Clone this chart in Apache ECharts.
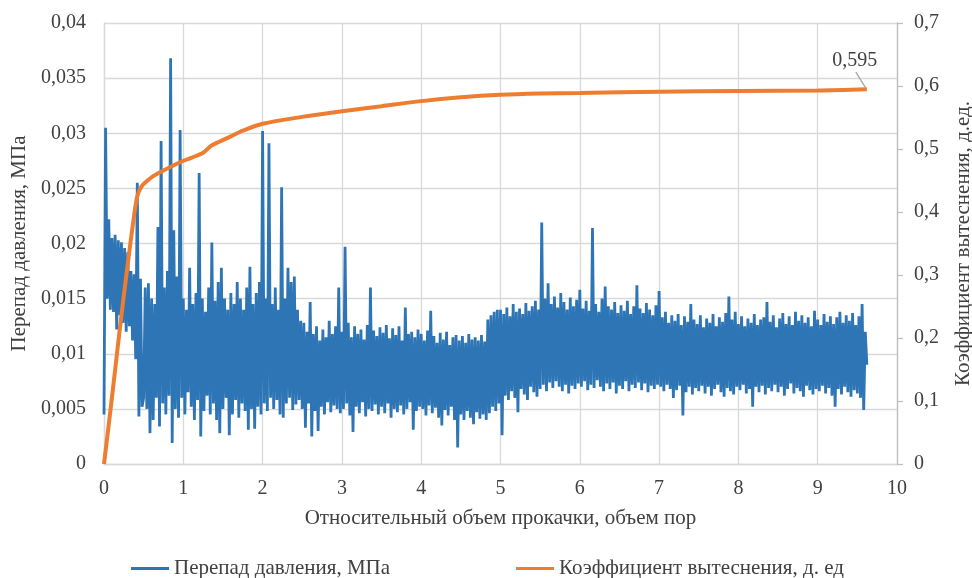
<!DOCTYPE html>
<html>
<head>
<meta charset="utf-8">
<script src="https://cdn.jsdelivr.net/npm/echarts@6/dist/echarts.min.js"></script>
<style>
  html, body { margin: 0; padding: 0; background: #ffffff; overflow: hidden; }
  #chart { width: 972px; height: 578px; }
</style>
</head>
<body>
<div id="chart"></div>
<script>
// Pressure drop readings, MPa, sampled every 0.02 pore volumes starting at 0
const pressureStep = 0.02;
const pressure = [
  0.0045, 0.0305, 0.0150, 0.0222, 0.0140, 0.0205, 0.0138, 0.0208, 0.0122, 0.0203,
  0.0135, 0.0201, 0.0128, 0.0196, 0.0120, 0.0192, 0.0125, 0.0175, 0.0112, 0.0172,
  0.0095, 0.0255, 0.0043, 0.0168, 0.0052,
  0.0060, 0.0160, 0.0050, 0.0164, 0.0028, 0.0150, 0.0040, 0.0145, 0.0060, 0.0215,
  0.0034, 0.0293, 0.0055, 0.0160, 0.0045, 0.0175, 0.0062, 0.0368, 0.0019, 0.0212,
  0.0050, 0.0170, 0.0042, 0.0303, 0.0060,
  0.0150, 0.0045, 0.0140, 0.0065, 0.0178, 0.0052, 0.0145, 0.0040, 0.0155, 0.0058,
  0.0264, 0.0025, 0.0150, 0.0048, 0.0138, 0.0062, 0.0160, 0.0045, 0.0201, 0.0055,
  0.0148, 0.0040, 0.0165, 0.0028, 0.0178,
  0.0050, 0.0150, 0.0060, 0.0140, 0.0026, 0.0155, 0.0045, 0.0145, 0.0058, 0.0165,
  0.0042, 0.0150, 0.0055, 0.0140, 0.0048, 0.0160, 0.0031, 0.0179, 0.0050, 0.0145,
  0.0032, 0.0155, 0.0052, 0.0165, 0.0045,
  0.0302, 0.0055, 0.0150, 0.0048, 0.0291, 0.0060, 0.0145, 0.0050, 0.0160, 0.0058,
  0.0140, 0.0045, 0.0251, 0.0042, 0.0150, 0.0055, 0.0178, 0.0060, 0.0165, 0.0049,
  0.0170, 0.0054, 0.0140, 0.0058, 0.0130,
  0.0050, 0.0128, 0.0033, 0.0120, 0.0055, 0.0147, 0.0025, 0.0118, 0.0048, 0.0125,
  0.0030, 0.0112, 0.0052, 0.0122, 0.0045, 0.0115, 0.0056, 0.0130, 0.0047, 0.0118,
  0.0053, 0.0125, 0.0050, 0.0160, 0.0046,
  0.0120, 0.0050, 0.0197, 0.0055, 0.0128, 0.0044, 0.0115, 0.0029, 0.0125, 0.0052,
  0.0118, 0.0046, 0.0122, 0.0056, 0.0113, 0.0043, 0.0126, 0.0050, 0.0160, 0.0048,
  0.0121, 0.0054, 0.0116, 0.0045, 0.0124,
  0.0052, 0.0119, 0.0046, 0.0126, 0.0055, 0.0114, 0.0042, 0.0123, 0.0050, 0.0117,
  0.0047, 0.0125, 0.0053, 0.0112, 0.0045, 0.0142, 0.0050, 0.0118, 0.0056, 0.0120,
  0.0031, 0.0115, 0.0048, 0.0122, 0.0052,
  0.0118, 0.0050, 0.0112, 0.0044, 0.0121, 0.0053, 0.0139, 0.0046, 0.0116, 0.0051,
  0.0110, 0.0042, 0.0119, 0.0035, 0.0113, 0.0049, 0.0120, 0.0044, 0.0108, 0.0052,
  0.0115, 0.0040, 0.0117, 0.0015, 0.0112,
  0.0045, 0.0116, 0.0040, 0.0110, 0.0048, 0.0118, 0.0042, 0.0113, 0.0036, 0.0115,
  0.0047, 0.0112, 0.0041, 0.0117, 0.0045, 0.0111, 0.0040, 0.0131, 0.0046, 0.0135,
  0.0052, 0.0138, 0.0048, 0.0140, 0.0055,
  0.0140, 0.0026, 0.0136, 0.0062, 0.0142, 0.0058, 0.0134, 0.0066, 0.0145, 0.0060,
  0.0138, 0.0047, 0.0141, 0.0068, 0.0136, 0.0063, 0.0146, 0.0058, 0.0139, 0.0070,
  0.0143, 0.0065, 0.0148, 0.0061, 0.0140,
  0.0068, 0.0219, 0.0072, 0.0150, 0.0066, 0.0164, 0.0074, 0.0145, 0.0069, 0.0152,
  0.0075, 0.0142, 0.0070, 0.0155, 0.0066, 0.0147, 0.0072, 0.0140, 0.0064, 0.0151,
  0.0071, 0.0143, 0.0068, 0.0149, 0.0073,
  0.0158, 0.0070, 0.0141, 0.0075, 0.0148, 0.0067, 0.0139, 0.0072, 0.0214, 0.0069,
  0.0145, 0.0076, 0.0138, 0.0070, 0.0150, 0.0066, 0.0161, 0.0073, 0.0143, 0.0068,
  0.0140, 0.0074, 0.0147, 0.0064, 0.0137,
  0.0071, 0.0144, 0.0068, 0.0139, 0.0075, 0.0148, 0.0066, 0.0136, 0.0072, 0.0143,
  0.0069, 0.0162, 0.0074, 0.0141, 0.0067, 0.0137, 0.0073, 0.0146, 0.0065, 0.0140,
  0.0071, 0.0135, 0.0068, 0.0144, 0.0072,
  0.0157, 0.0070, 0.0133, 0.0066, 0.0138, 0.0072, 0.0128, 0.0068, 0.0135, 0.0060,
  0.0130, 0.0067, 0.0136, 0.0071, 0.0126, 0.0044, 0.0134, 0.0065, 0.0129, 0.0070,
  0.0145, 0.0063, 0.0131, 0.0069, 0.0127,
  0.0066, 0.0135, 0.0071, 0.0124, 0.0064, 0.0132, 0.0070, 0.0128, 0.0062, 0.0136,
  0.0068, 0.0125, 0.0072, 0.0133, 0.0065, 0.0129, 0.0061, 0.0137, 0.0069, 0.0152,
  0.0066, 0.0131, 0.0063, 0.0138, 0.0070,
  0.0127, 0.0067, 0.0134, 0.0072, 0.0125, 0.0064, 0.0132, 0.0068, 0.0128, 0.0052,
  0.0136, 0.0070, 0.0126, 0.0065, 0.0131, 0.0071, 0.0133, 0.0063, 0.0147, 0.0069,
  0.0129, 0.0066, 0.0135, 0.0072, 0.0124,
  0.0065, 0.0132, 0.0070, 0.0137, 0.0062, 0.0127, 0.0068, 0.0134, 0.0073, 0.0126,
  0.0064, 0.0138, 0.0069, 0.0130, 0.0066, 0.0135, 0.0061, 0.0128, 0.0071, 0.0133,
  0.0067, 0.0125, 0.0063, 0.0139, 0.0068,
  0.0131, 0.0066, 0.0126, 0.0071, 0.0136, 0.0064, 0.0129, 0.0069, 0.0134, 0.0062,
  0.0127, 0.0052, 0.0133, 0.0068, 0.0138, 0.0063, 0.0128, 0.0070, 0.0135, 0.0065,
  0.0130, 0.0061, 0.0137, 0.0067, 0.0126, 0.0064, 0.0134, 0.0060, 0.0145, 0.0049,
  0.0120, 0.0090
];

// Displacement coefficient curve: pumped pore volumes and coefficient, fraction
const sweepVolume = [0, 0.1, 0.2, 0.3, 0.38, 0.42, 0.47, 0.55, 0.62, 0.75, 0.96, 1.1, 1.25, 1.35, 1.46, 1.6, 1.75, 2.0, 2.5, 3.0, 3.5, 4.0, 4.5, 5.0, 5.5, 6.0, 7.0, 8.0, 9.0, 9.62];
const sweepCoef   = [0, 0.105, 0.215, 0.318, 0.395, 0.425, 0.44, 0.45, 0.457, 0.466, 0.479, 0.486, 0.494, 0.505, 0.512, 0.52, 0.529, 0.54, 0.551, 0.56, 0.568, 0.576, 0.582, 0.586, 0.588, 0.589, 0.591, 0.592, 0.593, 0.595];

const pressureName = 'Перепад давления, МПа';
const coefName = 'Коэффициент вытеснения, д. ед';
const xTitle = 'Относительный объем прокачки, объем пор';
const leftTitle = 'Перепад давления, МПа';
const rightTitle = 'Коэффициент вытеснения, д.ед.';

const FONT = '"Liberation Serif", "Times New Roman", serif';
const GRID = '#d9d9d9';
const TEXT = '#404040';

const comma = (v, d) => (+v.toFixed(d)).toString().replace('.', ',');

const pressureData = pressure.map((v, i) => [+(i * pressureStep).toFixed(2), v]);
const last = sweepVolume.length - 1;
const coefData = sweepVolume.map((x, i) => {
  if (i === last) {
    return { value: [x, sweepCoef[i]], label: { show: true } };
  }
  return [x, sweepCoef[i]];
});

const chart = echarts.init(document.getElementById('chart'), null, { renderer: 'canvas' });
chart.setOption({
  animation: false,
  backgroundColor: '#ffffff',
  textStyle: { fontFamily: FONT },
  grid: { left: 104, right: 75, top: 23, bottom: 114, containLabel: false, outerBoundsMode: 'none' },
  legend: {
    left: 126,
    top: 553,
    itemGap: 126,
    itemWidth: 38,
    itemHeight: 3,
    icon: 'rect',
    textStyle: { fontFamily: FONT, fontSize: 21, color: TEXT },
    data: [pressureName, coefName]
  },
  xAxis: {
    type: 'value',
    min: 0, max: 10, interval: 1,
    name: xTitle,
    nameLocation: 'middle',
    nameGap: 44,
    nameTextStyle: { fontFamily: FONT, fontSize: 21, color: TEXT },
    axisLine: { show: true, lineStyle: { color: GRID, width: 1.3 } },
    axisTick: { show: false },
    axisLabel: { fontFamily: FONT, fontSize: 20, color: TEXT, margin: 15, formatter: v => comma(v, 0) },
    splitLine: { show: true, lineStyle: { color: GRID, width: 1.3 } }
  },
  yAxis: [
    {
      type: 'value',
      position: 'left',
      min: 0, max: 0.04, interval: 0.005,
      name: leftTitle,
      nameLocation: 'middle',
      nameRotate: 90,
      nameGap: 73,
      nameTextStyle: { fontFamily: FONT, fontSize: 21, color: TEXT },
      axisLine: { show: true, lineStyle: { color: GRID, width: 1.3 } },
      axisTick: { show: false },
      axisLabel: { fontFamily: FONT, fontSize: 20, color: TEXT, margin: 18, formatter: v => comma(v, 3) },
      splitLine: { show: true, lineStyle: { color: GRID, width: 1.3 } }
    },
    {
      type: 'value',
      position: 'right',
      min: 0, max: 0.7, interval: 0.1,
      name: rightTitle,
      nameLocation: 'middle',
      nameRotate: 90,
      nameGap: 56,
      nameTextStyle: { fontFamily: FONT, fontSize: 21, color: TEXT },
      axisLine: { show: true, lineStyle: { color: '#bfbfbf', width: 1.3 } },
      axisTick: { show: true, inside: false, length: 6, lineStyle: { color: '#bfbfbf', width: 1.3 } },
      axisLabel: { fontFamily: FONT, fontSize: 20, color: TEXT, margin: 17, formatter: v => comma(v, 1) },
      splitLine: { show: false }
    }
  ],
  series: [
    {
      name: pressureName,
      type: 'line',
      yAxisIndex: 0,
      data: pressureData,
      showSymbol: false,
      symbol: 'none',
      lineStyle: { color: '#2e75b6', width: 2.8 },
      itemStyle: { color: '#2e75b6' },
      z: 2
    },
    {
      name: coefName,
      type: 'line',
      yAxisIndex: 1,
      data: coefData,
      smooth: 0.3,
      showSymbol: true,
      symbol: 'circle',
      symbolSize: 0,
      lineStyle: { color: '#ed7d31', width: 4 },
      itemStyle: { color: '#ed7d31' },
      label: {
        show: false,
        position: 'top',
        distance: 4,
        fontFamily: FONT,
        fontSize: 20,
        color: TEXT,
        formatter: p => comma(p.value[1], 3)
      },
      labelLayout: { dx: -12, dy: -14 },
      emphasis: { disabled: true },
      z: 3
    }
  ]
});

// Leader line from the end-point label down to the last point of the curve
const endPx = chart.convertToPixel({ xAxisIndex: 0, yAxisIndex: 1 }, [sweepVolume[last], sweepCoef[last]]);
chart.setOption({
  graphic: [{
    type: 'line',
    z: 10,
    shape: { x1: endPx[0] - 11, y1: endPx[1] - 17, x2: endPx[0] - 1, y2: endPx[1] - 1 },
    style: { stroke: '#a6a6a6', lineWidth: 1.3 }
  }]
});
</script>
</body>
</html>
